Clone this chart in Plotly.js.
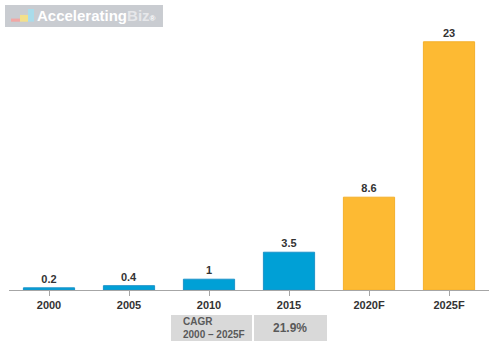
<!DOCTYPE html>
<html>
<head>
<meta charset="utf-8">
<script src="https://cdn.plot.ly/plotly-3.0.1.min.js"></script>
<style>html,body{margin:0;padding:0;background:#fff;}#chart{width:500px;height:357px;}</style>
</head>
<body>
<div id="chart"></div>
<script>
const categories = ['2000', '2005', '2010', '2015', '2020F', '2025F'];
const values = [0.2, 0.4, 1, 3.5, 8.6, 23];
const barColors = ['#00A0D6', '#00A0D6', '#00A0D6', '#00A0D6', '#FDBA33', '#FDBA33'];
const lineColors = ['#1D93C9', '#1D93C9', '#1D93C9', '#1D93C9', '#F4B02C', '#F4B02C'];
const valueLabels = ['0.2', '0.4', '1', '3.5', '8.6', '23'];
const cagrLabel = 'CAGR<br>2000 – 2025F';
const cagrValue = '21.9%';

const trace = {
  type: 'bar',
  x: categories,
  y: values,
  width: 0.64,
  marker: {color: barColors, line: {color: lineColors, width: 1}},
  text: valueLabels,
  textposition: 'outside',
  cliponaxis: false,
  textfont: {family: 'Liberation Sans, Arial, sans-serif', size: 11, color: '#333333', weight: 'bold'},
  hoverinfo: 'skip'
};

const layout = {
  width: 500, height: 357,
  margin: {l: 9, r: 11, t: 31, b: 67},
  paper_bgcolor: '#ffffff', plot_bgcolor: '#ffffff',
  showlegend: false,
  bargap: 0.36,
  xaxis: {
    type: 'category',
    showgrid: false, zeroline: false,
    showline: true, linecolor: '#A6A6A6', linewidth: 1,
    ticks: 'outside', ticklen: 5, tickcolor: '#A6A6A6',
    tickfont: {family: 'Liberation Sans, Arial, sans-serif', size: 11, color: '#333333', weight: 'bold'},
    fixedrange: true
  },
  yaxis: {
    range: [0, 24], visible: false, showgrid: false, zeroline: false, fixedrange: true
  },
  shapes: [
    // logo box
    {type: 'rect', xref: 'paper', yref: 'paper', x0: -0.0083, x1: 0.3208, y0: 1.0154, y1: 1.1004,
     fillcolor: '#C9CCD1', line: {width: 0}, layer: 'above'},
    {type: 'rect', xref: 'paper', yref: 'paper', x0: 0.0042, x1: 0.0229, y0: 1.036, y1: 1.048,
     fillcolor: '#F2A7A4', line: {width: 0}},
    {type: 'rect', xref: 'paper', yref: 'paper', x0: 0.0229, x1: 0.0396, y0: 1.036, y1: 1.062,
     fillcolor: '#F3E08A', line: {width: 0}},
    {type: 'rect', xref: 'paper', yref: 'paper', x0: 0.0396, x1: 0.0521, y0: 1.036, y1: 1.085,
     fillcolor: '#A9DCEB', line: {width: 0}},
    // CAGR table
    {type: 'rect', xref: 'paper', yref: 'paper', x0: 0.3375, x1: 0.50625, y0: -0.1969, y1: -0.0965,
     fillcolor: '#D9D9D9', line: {width: 0}},
    {type: 'rect', xref: 'paper', yref: 'paper', x0: 0.5104, x1: 0.6625, y0: -0.1969, y1: -0.0965,
     fillcolor: '#D9D9D9', line: {width: 0}}
  ],
  annotations: [
    {xref: 'paper', yref: 'paper', x: 0.054, y: 1.058, xanchor: 'left', yanchor: 'middle',
     text: 'Accelerating<span style="color:#E6E7EA">Biz</span><span style="font-size:8px">®</span>', showarrow: false,
     font: {family: 'Liberation Sans, Arial, sans-serif', size: 15, color: '#FFFFFF', weight: 'bold'}},
    {xref: 'paper', yref: 'paper', x: 0.3583, y: -0.1467, xanchor: 'left', yanchor: 'middle', align: 'left',
     text: cagrLabel, showarrow: false,
     font: {family: 'Liberation Sans, Arial, sans-serif', size: 10, color: '#595959', weight: 'bold'}},
    {xref: 'paper', yref: 'paper', x: 0.5854, y: -0.1467, xanchor: 'center', yanchor: 'middle',
     text: cagrValue, showarrow: false,
     font: {family: 'Liberation Sans, Arial, sans-serif', size: 12, color: '#595959', weight: 'bold'}}
  ]
};

Plotly.newPlot('chart', [trace], layout, {displayModeBar: false, staticPlot: true});
</script>
</body>
</html>
